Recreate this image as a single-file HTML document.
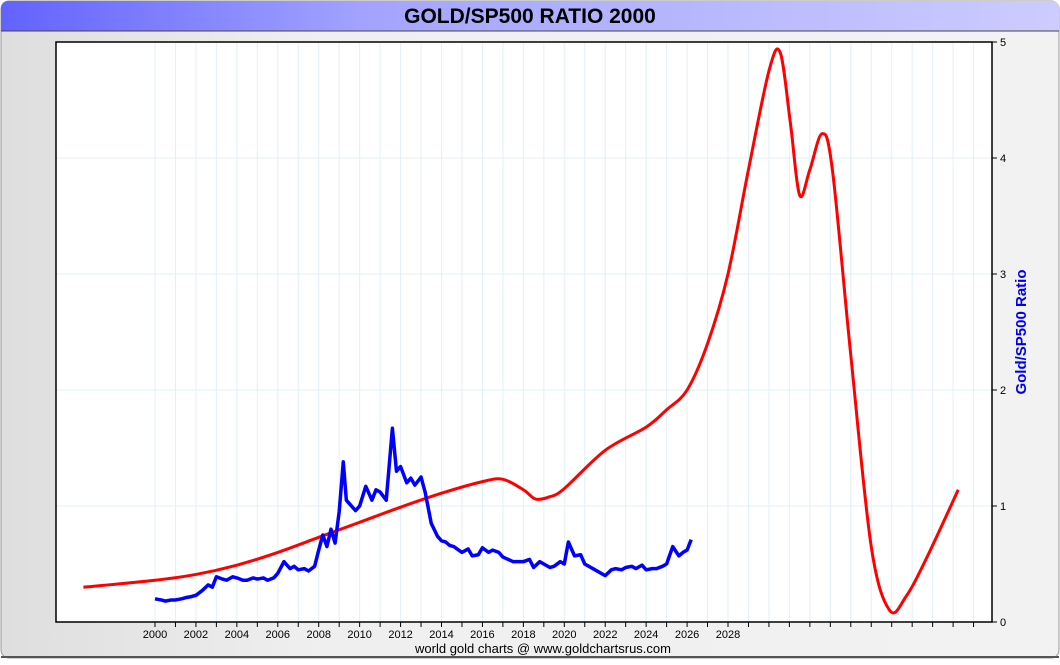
<!DOCTYPE html>
<html><head><meta charset="utf-8"><style>
body{margin:0;width:1060px;height:660px;overflow:hidden;background:#fff;font-family:"Liberation Sans",sans-serif}
</style></head><body>
<svg width="1060" height="660" xmlns="http://www.w3.org/2000/svg">
<defs>
<linearGradient id="tb" x1="0" x2="1"><stop offset="0" stop-color="#6262ff"/><stop offset="0.35" stop-color="#a4a4ff"/><stop offset="1" stop-color="#ccccff"/></linearGradient>
<linearGradient id="bg" x1="0" x2="1"><stop offset="0" stop-color="#dedede"/><stop offset="0.3" stop-color="#efefef"/><stop offset="1" stop-color="#f2f2f2"/></linearGradient>
</defs>
<rect x="1" y="1" width="1058" height="657" rx="8" fill="url(#bg)" stroke="#999"/>
<path d="M1,31 V9 Q1,1 9,1 H1051 Q1059,1 1059,9 V31 Z" fill="url(#tb)"/>
<line x1="1" y1="31" x2="1059" y2="31" stroke="#444" stroke-width="1"/>
<text x="530" y="23" text-anchor="middle" font-size="21" font-weight="bold" fill="#000">GOLD/SP500 RATIO 2000</text>
<line x1="1" y1="657" x2="1059" y2="657" stroke="#555" stroke-width="2"/>
<rect x="56" y="42" width="936" height="580" fill="#fff"/>
<g id="grid"></g>
<g id="series"></g>
<rect x="56" y="42" width="936" height="580" fill="none" stroke="#000" stroke-width="1.5"/>
<g id="axes"></g>
<text x="1026" y="332" transform="rotate(-90 1026 332)" text-anchor="middle" font-size="15" font-weight="bold" fill="#0000ee">Gold/SP500 Ratio</text>
<text x="543" y="653" text-anchor="middle" font-size="13" fill="#000">world gold charts @ www.goldchartsrus.com</text>
</svg>
<script>
const yTicks=[0,1,2,3,4,5];
const xTickLabels=[2000,2002,2004,2006,2008,2010,2012,2014,2016,2018,2020,2022,2024,2026,2028];
const actualYears=[2000,2000.3,2000.5,2000.8,2001,2001.3,2001.5,2001.8,2002,2002.3,2002.6,2002.8,2003,2003.3,2003.5,2003.8,2004,2004.3,2004.5,2004.8,2005,2005.3,2005.5,2005.8,2006,2006.3,2006.6,2006.8,2007,2007.3,2007.5,2007.8,2008,2008.2,2008.4,2008.6,2008.8,2009,2009.2,2009.35,2009.5,2009.8,2010,2010.3,2010.6,2010.8,2011,2011.3,2011.6,2011.8,2012,2012.3,2012.5,2012.7,2013,2013.2,2013.5,2013.8,2014,2014.2,2014.4,2014.6,2015,2015.3,2015.5,2015.8,2016,2016.3,2016.5,2016.8,2017,2017.5,2018,2018.3,2018.5,2018.8,2019,2019.3,2019.5,2019.8,2020,2020.2,2020.5,2020.8,2021,2021.5,2022,2022.3,2022.5,2022.8,2023,2023.3,2023.5,2023.8,2024,2024.3,2024.5,2024.8,2025,2025.3,2025.6,2025.8,2026,2026.2];
const actualRatio=[0.20,0.19,0.18,0.19,0.19,0.20,0.21,0.22,0.23,0.27,0.32,0.30,0.39,0.37,0.36,0.39,0.38,0.36,0.36,0.38,0.37,0.38,0.36,0.38,0.42,0.52,0.46,0.48,0.45,0.46,0.44,0.48,0.62,0.75,0.65,0.80,0.68,0.95,1.38,1.05,1.02,0.96,1.00,1.17,1.05,1.14,1.12,1.05,1.67,1.30,1.34,1.20,1.24,1.18,1.25,1.12,0.85,0.74,0.70,0.69,0.66,0.65,0.60,0.63,0.57,0.58,0.64,0.60,0.62,0.60,0.56,0.52,0.52,0.54,0.47,0.52,0.50,0.47,0.48,0.52,0.50,0.69,0.57,0.58,0.50,0.45,0.40,0.45,0.46,0.45,0.47,0.48,0.46,0.49,0.45,0.46,0.46,0.48,0.50,0.65,0.57,0.60,0.62,0.71];
const projYears=[1996.5,2000,2002,2004,2006,2008,2010,2012,2014,2016,2017,2018,2018.6,2019.3,2020,2022,2024,2025,2026,2027,2028,2029,2030,2030.55,2031.05,2031.5,2032,2032.6,2033.1,2034,2035,2035.9,2036.7,2037.7,2039.25];
const projRatio=[0.30,0.36,0.41,0.49,0.60,0.73,0.86,0.99,1.11,1.21,1.23,1.14,1.06,1.08,1.15,1.48,1.68,1.83,2.00,2.40,3.00,3.90,4.75,4.91,4.30,3.68,3.90,4.21,3.90,2.30,0.65,0.10,0.22,0.55,1.14];
const NS='http://www.w3.org/2000/svg';
const X=y=>155+(y-2000)*(573/28);
const Y=v=>622-v*116;
function mk(t,a,p){const e=document.createElementNS(NS,t);for(const k in a)e.setAttribute(k,a[k]);p.appendChild(e);return e;}
const grid=document.getElementById('grid'),axes=document.getElementById('axes'),ser=document.getElementById('series');
for(let yr=2000;yr<=2041;yr++){const x=X(yr);if(x>990)break;
 const l=mk('line',{x1:x,y1:42,x2:x,y2:622,stroke:'#e2f0f8','stroke-width':1},grid);
 
 
 const t=mk('line',{x1:x,y1:622,x2:x,y2:627,stroke:'#000','stroke-width':1},axes);
 
 }
yTicks.forEach(v=>{const y=Y(v);
 const l=mk('line',{x1:56,y1:y,x2:992,y2:y,stroke:'#e2f0f8','stroke-width':1},grid);
 
 
 const t=mk('line',{x1:992,y1:y,x2:997,y2:y,stroke:'#000'},axes);
 
 
 const tx=mk('text',{x:1000,y:y+4,'font-size':11,fill:'#000'},axes);tx.textContent=v;
 
 });
xTickLabels.forEach(v=>{const tx=mk('text',{x:X(v),y:638,'font-size':11,'text-anchor':'middle',fill:'#000'},axes);tx.textContent=v;
 
 });
function smooth(xs,ys){const P=xs.map((x,i)=>[X(x),Y(ys[i])]);let d='M'+P[0][0]+','+P[0][1];
 for(let i=0;i<P.length-1;i++){const p0=P[Math.max(0,i-1)],p1=P[i],p2=P[i+1],p3=P[Math.min(P.length-1,i+2)];
 d+=` C${p1[0]+(p2[0]-p0[0])/6},${p1[1]+(p2[1]-p0[1])/6} ${p2[0]-(p3[0]-p1[0])/6},${p2[1]-(p3[1]-p1[1])/6} ${p2[0]},${p2[1]}`;}return d;}
const red=mk('path',{d:smooth(projYears,projRatio),fill:'none',stroke:'#ff0000','stroke-width':3},ser);


const blue=mk('polyline',{points:actualYears.map((y,i)=>X(y)+','+Y(actualRatio[i])).join(' '),fill:'none',stroke:'#0000ff','stroke-width':3.5,'stroke-linejoin':'round'},ser);


</script>
</body></html>
